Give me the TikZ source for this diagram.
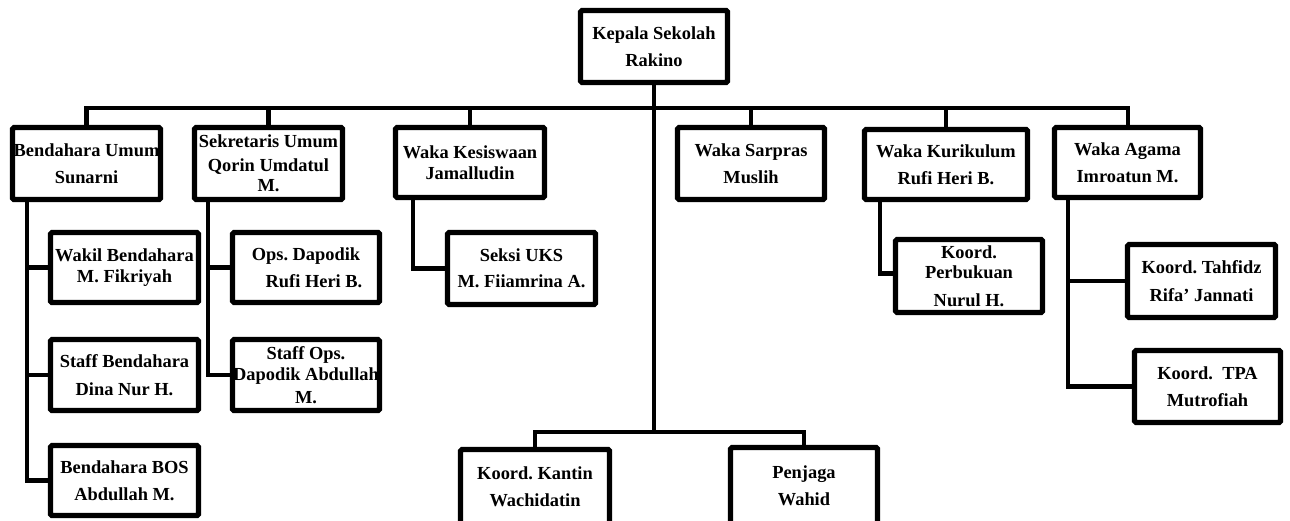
\documentclass[tikz,border=0pt]{standalone}
\usepackage{fontspec}
\setmainfont{Liberation Serif}
\frenchspacing
\newcommand\orgbox[7][]{%
  \pgfmathsetmacro\obw{(#5-#3-5)*0.75}%
  \pgfmathsetmacro\obh{(#6-#4-5)*0.75}%
  \node[box,minimum width=\obw pt,minimum height=\obh pt,#1] (#2) at ({(#3+#5)/2},{(#4+#6)/2}) {#7};%
}
\begin{document}
\begin{tikzpicture}[x=0.75pt,y=-0.75pt,
  box/.style={draw=black,line width=3.8pt,rounded corners=1pt,inner sep=0pt,align=center,
    font=\fontsize{13.8}{20.5}\selectfont\bfseries},
  tight/.style={font=\fontsize{13.8}{15.5}\selectfont\bfseries},
  mid/.style={font=\fontsize{13.8}{18}\selectfont\bfseries},
  conn/.style={line width=3.6pt,line cap=rect,line join=miter}]
\useasboundingbox (0,0) rectangle (1290,521);
\clip (0,0) rectangle (1290,521);
% top
\orgbox{kep}{578}{8}{730}{85}{Kepala Sekolah\\Rakino}
% row 1
\orgbox{bu}{10}{125}{163}{202}{Bendahara Umum\\Sunarni}
\orgbox[mid]{su}{192}{125}{345}{202}{Sekretaris Umum\\Qorin Umdatul\\[-3pt]M.}
\orgbox[tight]{wk}{393}{125}{547}{200}{Waka Kesiswaan\\Jamalludin}
\orgbox{sp}{675}{125}{827}{202}{Waka Sarpras\\Muslih}
\orgbox{kr}{862}{127}{1030}{202}{Waka Kurikulum\\Rufi Heri B.}
\orgbox{ag}{1052}{125}{1203}{200}{Waka Agama\\Imroatun M.}
% children of Bendahara Umum
\orgbox[tight]{wb}{48}{230}{201}{305}{Wakil Bendahara\\M. Fikriyah}
\orgbox{sb}{48}{337}{201}{413}{Staff Bendahara\\Dina Nur H.}
\orgbox{bb}{48}{443}{201}{518}{Bendahara BOS\\Abdullah M.}
% children of Sekretaris
\orgbox{od}{230}{230}{382}{305}{Ops. Dapodik\\\hspace*{12pt}Rufi Heri B.}
\orgbox[tight]{so}{230}{337}{382}{413}{Staff Ops.\\Dapodik Abdullah\\[2pt]M.}
% child of Kesiswaan
\orgbox[tight]{uks}{445}{230}{598}{307}{Seksi UKS\\[4pt]M. Fiiamrina A.}
% child of Kurikulum
\orgbox[tight]{pb}{893}{237}{1045}{315}{Koord.\\Perbukuan\\[5pt]Nurul H.}
% children of Agama
\orgbox{th}{1125}{242}{1278}{320}{Koord. Tahfidz\\Rifa’ Jannati}
\orgbox{tpa}{1132}{348}{1283}{425}{Koord.~~TPA\\Mutrofiah}
% bottom
\orgbox{ka}{458}{447}{612}{527}{Koord. Kantin\\Wachidatin}
\orgbox{pe}{728}{445}{880}{527}{Penjaga\\Wahid}
% coordinates
\coordinate (bar) at (654,108);
\coordinate (low) at (654,432);
% top bar
\draw[conn] (bu.north) |- (bar);
\draw[conn,line width=3pt] (bar) -| (ag.north);
\draw[conn] (kep.south) -- (low);
\draw[conn] (su.north) -- (su.north |- bar);
\draw[conn] (wk.north) -- (wk.north |- bar);
\draw[conn] (sp.north) -- (sp.north |- bar);
\draw[conn] (kr.north) -- (kr.north |- bar);
\draw[conn] (ka.north) |- (low) -| (pe.north);
% Bendahara Umum group
\coordinate (bux) at ([xshift=12.75pt]bu.south west);
\draw[conn] (bux) |- (bb.west);
\draw[conn] (wb.west) -- (wb.west -| bux);
\draw[conn] (sb.west) -- (sb.west -| bux);
% Sekretaris group
\coordinate (sux) at ([xshift=12pt]su.south west);
\draw[conn,line width=2.6pt] (sux) |- (so.west);
\draw[conn] (od.west) -- (od.west -| sux);
% Kesiswaan
\coordinate (wkx) at ([xshift=15pt]wk.south west);
\draw[conn] (wkx) |- (uks.west);
% Kurikulum
\coordinate (krx) at ([xshift=13.5pt]kr.south west);
\draw[conn] (krx) |- ([yshift=2pt]pb.west);
% Agama
\coordinate (agx) at ([xshift=12pt]ag.south west);
\draw[conn] (agx) |- (tpa.west);
\draw[conn] (th.west) -- (th.west -| agx);
\end{tikzpicture}
\end{document}
